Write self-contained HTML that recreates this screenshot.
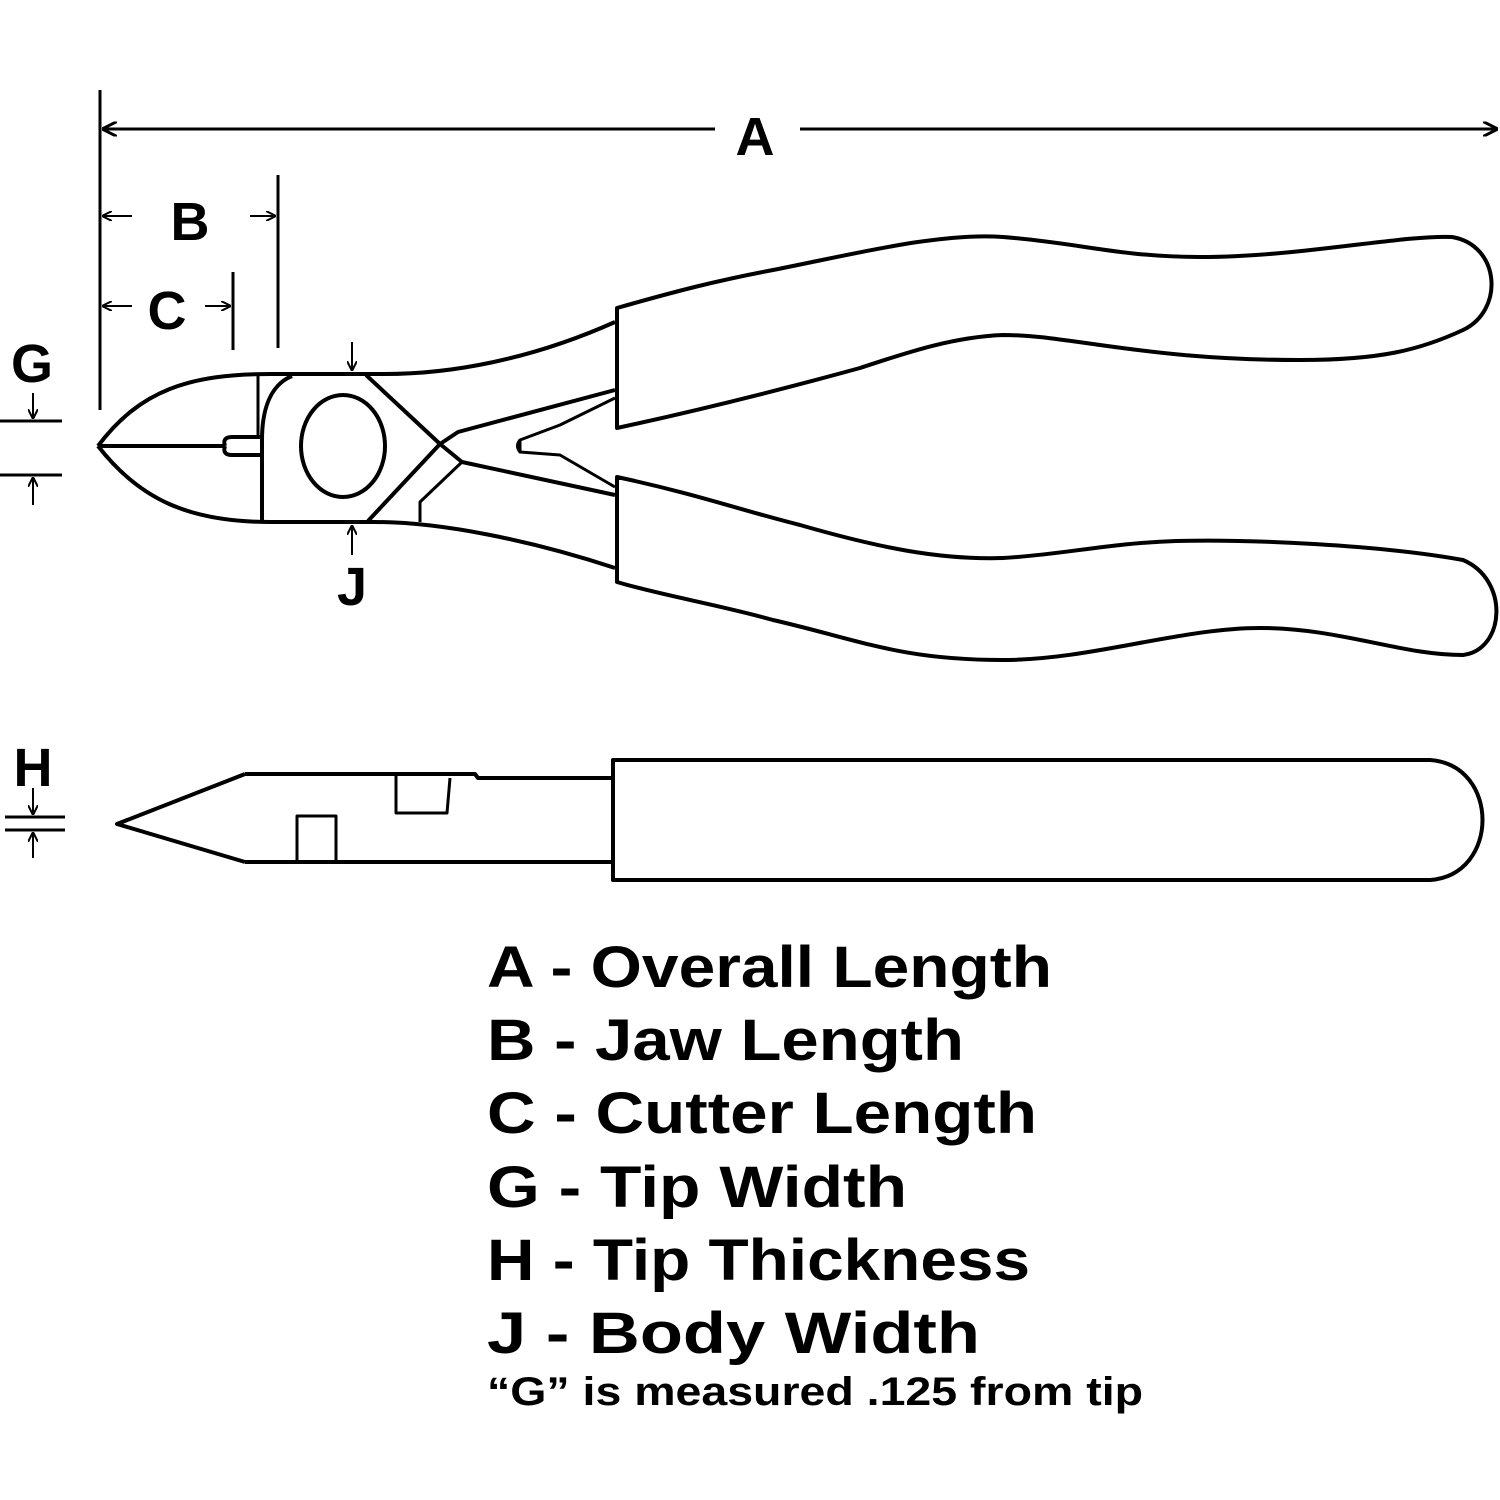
<!DOCTYPE html>
<html><head><style>html,body{margin:0;padding:0;background:#fff}svg{display:block}</style></head>
<body>
<svg width="1500" height="1500" viewBox="0 0 1500 1500" xmlns="http://www.w3.org/2000/svg">
<defs>
<marker id="ar" viewBox="0 0 10 10" refX="10" refY="5" markerWidth="5" markerHeight="5" orient="auto-start-reverse"><path d="M0,0 L10,5 L0,10" fill="none" stroke="#000" stroke-width="2"/></marker>
</defs>
<g fill="none" stroke="#000" stroke-width="4" stroke-linejoin="round">
<line x1="100" y1="90" x2="100" y2="410" stroke-width="3"/>
<line x1="102" y1="129" x2="715" y2="129" stroke-width="3" marker-start="url(#ar)"/>
<line x1="800" y1="129" x2="1498" y2="129" stroke-width="3" marker-end="url(#ar)"/>
<line x1="278" y1="175" x2="278" y2="348" stroke-width="3"/>
<line x1="102" y1="216" x2="132" y2="216" stroke-width="2" marker-start="url(#ar)"/>
<line x1="250" y1="216" x2="276" y2="216" stroke-width="2" marker-end="url(#ar)"/>
<line x1="233" y1="272" x2="233" y2="350" stroke-width="3"/>
<line x1="102" y1="306" x2="132" y2="306" stroke-width="2" marker-start="url(#ar)"/>
<line x1="205" y1="306" x2="231" y2="306" stroke-width="2" marker-end="url(#ar)"/>
<line x1="0" y1="421" x2="62" y2="421" stroke-width="3"/>
<line x1="0" y1="475" x2="62" y2="475" stroke-width="3"/>
<line x1="33" y1="393" x2="33" y2="419" stroke-width="2" marker-end="url(#ar)"/>
<line x1="33" y1="505" x2="33" y2="477" stroke-width="2" marker-end="url(#ar)"/>
<line x1="352" y1="342" x2="352" y2="371" stroke-width="2" marker-end="url(#ar)"/>
<line x1="352" y1="555" x2="352" y2="525" stroke-width="2" marker-end="url(#ar)"/>
<line x1="5" y1="817" x2="65" y2="817" stroke-width="3"/>
<line x1="5" y1="830" x2="65" y2="830" stroke-width="3"/>
<line x1="33" y1="788" x2="33" y2="815" stroke-width="2" marker-end="url(#ar)"/>
<line x1="33" y1="858" x2="33" y2="832" stroke-width="2" marker-end="url(#ar)"/>

<path d="M98,446 C140,390 190,374 270,374 L385,374 C450,374 530,360 615,322"/>
<path d="M98,446 C140,500 190,522 270,522 L375,522 C440,522 530,540 615,568"/>
<path d="M98,446 L225,446 M225,446 Q222,437 232,437 L262,437 M225,446 Q222,455 232,455 L262,455"/>
<path d="M258,375 L258,437" stroke-width="3"/>
<path d="M292,376 C270,385 262,410 262,440 L262,522"/>
<ellipse cx="343" cy="446" rx="42" ry="51"/>
<path d="M366,375 L440,444 L462,462 L615,495"/>
<path d="M368,521 L440,444 L458,432 L615,390"/>
<path d="M420,522 L420,502 L462,462" stroke-width="3"/>
<path d="M615,398 L560,425 L520,440 L520,452 L560,455 L615,487" stroke-width="3"/>
<path d="M520,440 Q515,446 520,452" stroke-width="3"/>
<path d="M617,308 C680,290 720,280 773,270 C850,255 940,232 1003,237 C1080,243 1120,257 1200,257 C1300,257 1400,235 1452,237 C1500,245 1505,310 1463,330 C1420,350 1380,360 1300,360 C1210,360 1150,352 1100,345 C1050,338 1030,335 1003,335 C950,337 900,355 860,368 C780,390 700,410 617,428 Z"/>
<path d="M617,477 C700,495 740,510 800,525 C880,548 940,560 1003,558 C1060,555 1110,543 1176,541 C1250,539 1380,545 1463,560 C1510,580 1505,650 1463,655 C1400,655 1340,628 1260,628 C1180,628 1090,660 1003,660 C900,660 860,640 773,620 C720,605 660,595 617,582 Z"/>

<path d="M245,774 L117,824 L245,862"/>
<path d="M245,774 L475,774 L478,778 L612,778"/>
<path d="M245,862 L612,862"/>
<path d="M396,776 L396,813 L447,813 L450,778" stroke-width="3"/>
<path d="M297,862 L297,816 L336,816 L336,862" stroke-width="3"/>
<path d="M613,760 L1430,760 C1500,765 1500,875 1430,880 L613,880 Z"/>
</g>
<g font-family="'Liberation Sans',sans-serif" font-weight="bold" fill="#000">
<text x="755" y="155" font-size="54" text-anchor="middle">A</text>
<text x="190" y="240" font-size="54" text-anchor="middle">B</text>
<text x="167" y="329" font-size="54" text-anchor="middle">C</text>
<text x="32" y="382" font-size="54" text-anchor="middle">G</text>
<text x="352" y="605" font-size="54" text-anchor="middle">J</text>
<text x="33" y="786" font-size="54" text-anchor="middle">H</text>
<g font-size="58">
<text x="487" y="987" textLength="565" lengthAdjust="spacingAndGlyphs">A - Overall Length</text>
<text x="487" y="1060" textLength="477" lengthAdjust="spacingAndGlyphs">B - Jaw Length</text>
<text x="487" y="1133" textLength="550" lengthAdjust="spacingAndGlyphs">C - Cutter Length</text>
<text x="487" y="1207" textLength="420" lengthAdjust="spacingAndGlyphs">G - Tip Width</text>
<text x="487" y="1280" textLength="543" lengthAdjust="spacingAndGlyphs">H - Tip Thickness</text>
<text x="487" y="1353" textLength="493" lengthAdjust="spacingAndGlyphs">J  - Body Width</text>
</g>
<text x="487" y="1405" font-size="40" textLength="656" lengthAdjust="spacingAndGlyphs">“G” is measured .125 from tip</text>
</g>
</svg>
</body></html>
